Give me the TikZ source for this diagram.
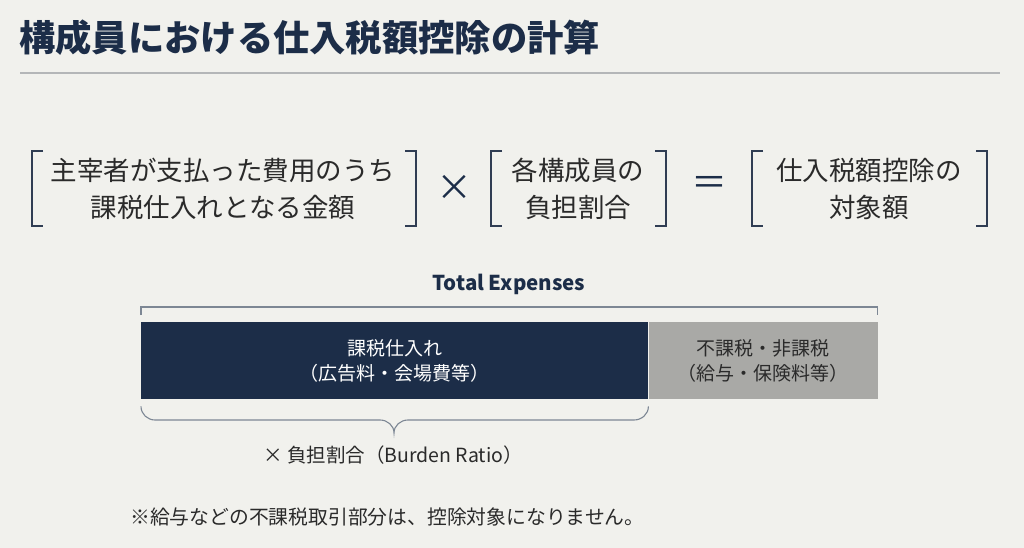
\documentclass[tikz,border=0pt]{standalone}
\usepackage{fontspec}
\setmainfont{Noto Sans CJK JP}
\definecolor{navy}{HTML}{1C2D48}
\definecolor{paper}{HTML}{F1F1ED}
\definecolor{inkgray}{HTML}{2A2A2A}
\definecolor{bargray}{HTML}{A9A9A6}
\definecolor{rulegray}{HTML}{B4B6B8}
\definecolor{bracegray}{HTML}{7D8794}
\tikzset{
  formula/.style={align=center, text=inkgray, font=\fontsize{26.5}{37}\selectfont, inner sep=0pt},
  bracket/.style={draw=navy!80!gray, line width=1.3pt},
  opsign/.style={text=navy, font=\fontsize{36}{36}\selectfont, inner sep=0pt},
  barpart/.style={minimum height=77pt, inner sep=0pt, anchor=north west, align=center, font=\fontsize{19}{25}\selectfont},
}
\begin{document}
\begin{tikzpicture}[x=1pt,y=-1pt]
  \fill [paper] (0,0) rectangle (1024,548);
  \useasboundingbox (0,0) rectangle (1024,548);
  % title
  \node [anchor=west, inner sep=0pt, text=navy, font=\fontsize{36.3}{37}\selectfont\bfseries] (title) at (19,38) {構成員における仕入税額控除の計算};
  \draw [rulegray, line width=1.2pt] (20,73) -- (1000,73);
  % formula
  \node [formula] (paid) at (223,189) {主宰者が支払った費用のうち\\課税仕入れとなる金額};
  \draw [bracket] (43,151) -- (32,151) -- (32,226) -- (43,226);
  \draw [bracket] (405,151) -- (416,151) -- (416,226) -- (405,226);
  \node [opsign] (times) at (454,188) {×};
  \node [formula] (ratio) at (578,189) {各構成員の\\負担割合};
  \draw [bracket] (502,151) -- (491,151) -- (491,226) -- (502,226);
  \draw [bracket] (655,151) -- (666,151) -- (666,226) -- (655,226);
  \node [opsign] (equals) at (709,186) {＝};
  \node [formula] (credit) at (869,189) {仕入税額控除の\\対象額};
  \draw [bracket] (763,151) -- (752,151) -- (752,226) -- (763,226);
  \draw [bracket] (976,151) -- (987,151) -- (987,226) -- (976,226);
  % bar
  \node [font=\fontsize{20.5}{21}\selectfont\bfseries, text=navy, inner sep=0pt] (total) at (509,284) {Total Expenses};
  \node [barpart, fill=navy, text=white, minimum width=507pt] (taxable) at (141,322) {課税仕入れ\\（広告料・会場費等）};
  \node [barpart, fill=bargray, text=inkgray, minimum width=229pt] (nontax) at (taxable.north east) {不課税・非課税\\（給与・保険料等）};
  \draw [bracegray, line width=1.1pt] ([yshift=7pt]taxable.north west) -- ([yshift=15pt]taxable.north west) -- ([yshift=15pt]nontax.north east) -- ([yshift=7pt]nontax.north east);
  \coordinate (tip) at (394,433);
  \draw [bracegray, line width=1.1pt] ([yshift=-7pt]taxable.south west) to[out=-90,in=180] (155,420) -- (380,420) to[out=0,in=90] (tip) to[out=90,in=180] (408,420) -- (634,420) to[out=0,in=-90] ([yshift=-7pt]taxable.south east);
  \node [font=\fontsize{19.5}{20}\selectfont, text=inkgray, inner sep=0pt] (burden) at (393,455) {× 負担割合（Burden Ratio）};
  % note
  \node [anchor=west, font=\fontsize{19.8}{20}\selectfont, text=inkgray, inner sep=0pt] (note) at (130,517) {※給与などの不課税取引部分は、控除対象になりません。};
\end{tikzpicture}
\end{document}
